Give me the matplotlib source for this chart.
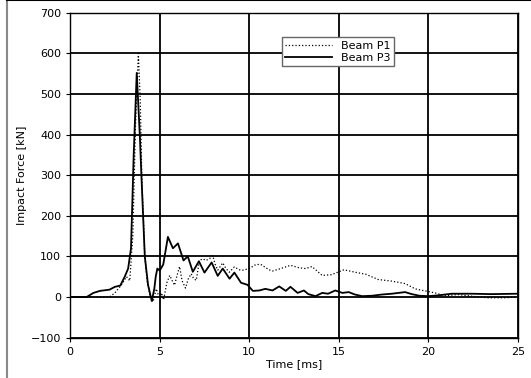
import numpy as np
import matplotlib.pyplot as plt
from matplotlib.lines import Line2D

# Beam P1 (dotted)
t_p1 = [0, 1.0, 2.2, 2.5, 2.87, 3.15, 3.33, 3.5, 3.65, 3.81, 3.92, 4.0, 4.17, 4.3, 4.45,
        4.63, 4.81, 4.9, 5.0, 5.1, 5.22, 5.4, 5.56, 5.7, 5.83, 5.95, 6.11, 6.25, 6.44,
        6.6, 6.76, 6.9, 7.04, 7.22, 7.41, 7.59, 7.8, 7.96, 8.1, 8.24, 8.52, 8.7, 8.89,
        9.17, 9.44, 9.63, 10.0, 10.37, 10.65, 11.1, 11.3, 11.76, 12.3, 12.78, 13.15,
        13.5, 14.07, 14.6, 15.28, 15.9, 16.5, 17.2, 17.96, 18.7, 19.26, 19.8, 20.37,
        20.93, 21.67, 22.4, 23.3, 24.3, 25.0]
f_p1 = [0, 0, 0, 10, 30, 50, 40, 150, 420, 600, 480, 300, 100, 40, 5,
        -12, 20, 8, 0, 10, -7, 35, 53, 40, 29, 50, 75, 40, 22,
        45, 57, 45, 41, 90, 94, 90, 95, 102, 80, 66, 84, 70, 61,
        74, 67, 66, 70, 80, 80, 67, 64, 70, 78, 72, 70,
        75, 53, 55, 67, 61, 56, 43, 39, 33, 20, 15, 10,
        3, 6, 2, -2, -2, 0]

# Beam P3 (solid)
t_p3 = [0, 0.93, 1.3, 1.67, 2.2, 2.5, 2.8, 3.05, 3.24, 3.4, 3.55, 3.72, 3.89, 3.98,
        4.17, 4.35, 4.56, 4.7, 4.78, 4.87, 5.0, 5.2, 5.46, 5.74, 6.02, 6.33, 6.57,
        6.85, 7.19, 7.5, 7.9, 8.24, 8.52, 8.9, 9.17, 9.54, 9.9, 10.2, 10.56, 10.9,
        11.3, 11.67, 12.04, 12.3, 12.7, 13.05, 13.3, 13.7, 14.07, 14.4, 14.8, 15.2,
        15.55, 15.9, 16.3, 16.85, 17.4, 17.96, 18.7, 19.07, 19.5, 20.0, 20.55, 21.3,
        22.4, 23.5, 25.0]
f_p3 = [0, 0, 10, 15, 18, 25, 28, 50, 70, 120, 350, 552, 400, 300,
        100, 30, -10, 20, 50, 70, 65, 80, 148, 120, 132, 90, 100,
        62, 88, 60, 85, 52, 70, 45, 60, 35, 30, 15, 16, 20,
        16, 26, 15, 25, 10, 16, 7, 2, 10, 8, 16, 10,
        12, 6, 2, 3, 6, 8, 12, 7, 3, 2, 4, 8,
        8, 7, 8]

fig = plt.figure(figsize=(5.31, 3.78), dpi=100)
ax = fig.add_axes([0.132, 0.107, 0.8435, 0.859])

ax.plot(t_p1, f_p1, color='black', linestyle=':', linewidth=0.9, label='Beam P1')
ax.plot(t_p3, f_p3, color='black', linestyle='-', linewidth=1.3, label='Beam P3')

ax.set_xlim(0, 25)
ax.set_ylim(-100, 700)
ax.set_xticks(np.arange(0, 26, 5))
ax.set_yticks(np.arange(-100, 701, 100))
ax.tick_params(labelsize=8, length=3, width=0.8, color='black')
ax.set_xlabel('Time [ms]', fontsize=8, labelpad=2)
ax.set_ylabel('Impact Force [kN]', fontsize=8, labelpad=3)

ax.set_axisbelow(True)
ax.grid(True, color='black', linewidth=1.3)
for s in ax.spines.values():
    s.set_linewidth(1.0)

leg = ax.legend(loc='upper left', bbox_to_anchor=(0.473, 0.925), fontsize=8,
                fancybox=False, edgecolor='#666666', framealpha=1,
                borderpad=0.3, labelspacing=0.2, handlelength=4.2, borderaxespad=0)
leg.get_frame().set_linewidth(1.0)

# frame remnants around the figure
fig.add_artist(Line2D([7 / 531, 7 / 531], [0, 1], color='#888888', linewidth=1.5))
fig.add_artist(Line2D([7 / 531, 1], [0.999, 0.999], color='black', linewidth=1.5))

fig.savefig('out.png', dpi=100)
